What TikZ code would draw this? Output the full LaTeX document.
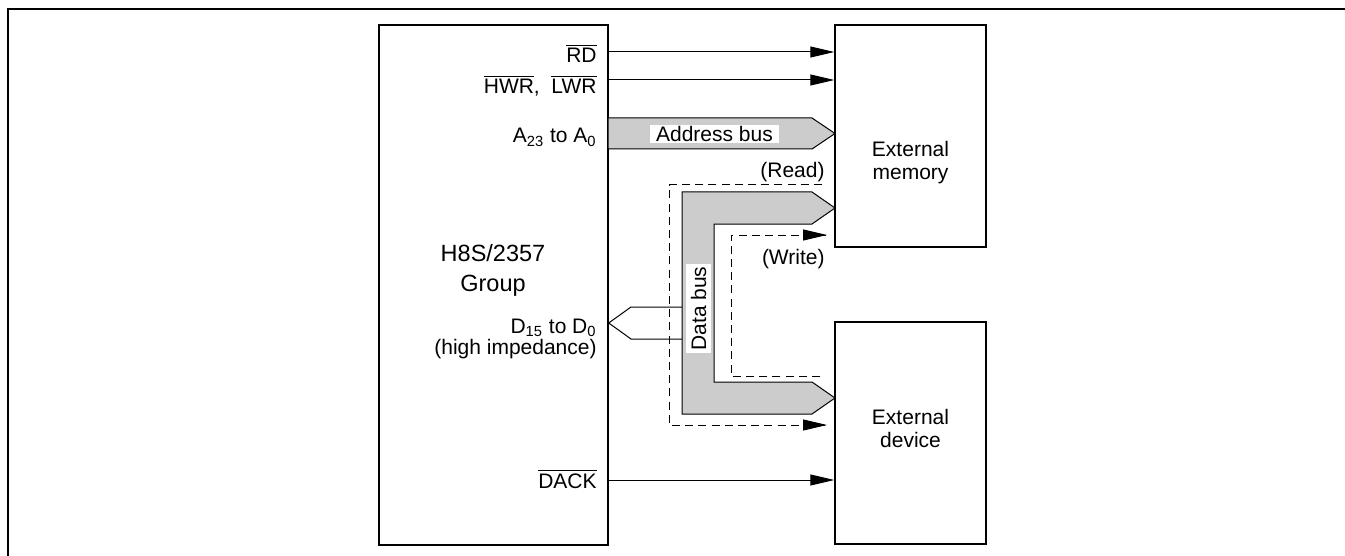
\documentclass[tikz,border=0pt]{standalone}
\usepackage{fontspec}
\setmainfont{Liberation Sans}
\usetikzlibrary{arrows.meta}
\begin{document}
\begin{tikzpicture}[x=0.5pt,y=-0.5pt,
  every node/.style={font=\fontsize{10.5pt}{12.6pt}\selectfont, inner sep=0pt},
  box/.style={draw, line width=0.7pt, minimum width=#1, inner sep=0pt},
  sig/.style={line width=0.5pt, -{Triangle[length=12pt,width=5.5pt]}},
  dsh/.style={line width=0.5pt, dash pattern=on 4pt off 2.6pt},
  bus/.style={draw, line width=0.5pt, fill=black!20, line join=miter},
  lbl/.style={anchor=base east},
  wlbl/.style={fill=white, inner sep=0pt},
  big/.style={font=\fontsize{11.75pt}{14pt}\selectfont, anchor=base}]
\useasboundingbox (0,0) rectangle (1345,556);
% outer frame
\draw[line width=1pt] (8,556) -- (8,9) -- (1345,9);
% boxes
\node[box=114.5pt, minimum height=260pt] (cpu) at (493.5,285) {};
\node[box=75.5pt, minimum height=111pt] (mem) at (910.5,136) {};
\node[box=75.5pt, minimum height=111pt] (dev) at (910.5,433) {};
% box texts
\node[big] (cpu1) at (493,262) {H8S/2357};
\node[big] (cpu2) at (493,292) {Group};
\node[anchor=base] (mem1) at (910.5,156) {External};
\node[anchor=base] (mem2) at (910.5,179) {memory};
\node[anchor=base] (dev1) at (910.5,424) {External};
\node[anchor=base] (dev2) at (910.5,447) {device};
% signal labels
\node[lbl] (rd) at (597,63) {$\overline{\mbox{RD}}$};
\node[lbl] (wr) at (597,94) {$\overline{\mbox{HWR}}$,\ \ $\overline{\mbox{LWR}}$};
\node[lbl] (adr) at (597,143) {A\textsubscript{23} to A\textsubscript{0}};
\node[lbl] (dat) at (597,333) {D\textsubscript{15} to D\textsubscript{0}};
\node[lbl] (hiz) at (597,354) {(high impedance)};
\node[lbl] (dack) at (597,488) {$\overline{\mbox{DACK}}$};
% signal arrows
\coordinate (yrd) at (0,52);
\coordinate (ywr) at (0,80);
\coordinate (yda) at (0,480);
\draw[sig] (cpu.east |- yrd) -- (mem.west |- yrd);
\draw[sig] (cpu.east |- ywr) -- (mem.west |- ywr);
\draw[sig] (cpu.east |- yda) -- (dev.west |- yda);
% address bus
\draw[bus] (608,118) -- (812,118) -- (835,133.5) -- (812,149) -- (608,149) -- cycle;
\node[wlbl, minimum width=64.5pt, minimum height=9pt] (abus) at (714.5,134) {Address bus};
% data bus
\draw[bus] (682,192) -- (812,192) -- (835,208) -- (812,224) -- (714,224) -- (714,382)
  -- (812,382) -- (835,398) -- (812,414) -- (682,414) -- cycle;
\node[wlbl, rotate=90, minimum width=44.5pt, minimum height=12.5pt] (dbus) at (698.5,308.5) {Data bus};
% CPU data connection (high impedance)
\draw[line width=0.5pt] (682,307) -- (631,307) -- (cpu.east |- 0,323) -- (631,339) -- (682,339);
% read path
\coordinate (rs) at (822,185);
\coordinate (re) at (827,425);
\draw[dsh] (rs) -- (669,185) -- (669,425) -- (re);
\draw[sig] (805,425) -- (re);
\node[lbl] (read) at (825,177) {(Read)};
% write path
\coordinate (ws) at (820,376);
\coordinate (we) at (827,235);
\draw[dsh] (ws) -- (731,376) -- (731,235) -- (we);
\draw[sig] (805,235) -- (we);
\node[lbl] (write) at (825,264) {(Write)};
\end{tikzpicture}
\end{document}
